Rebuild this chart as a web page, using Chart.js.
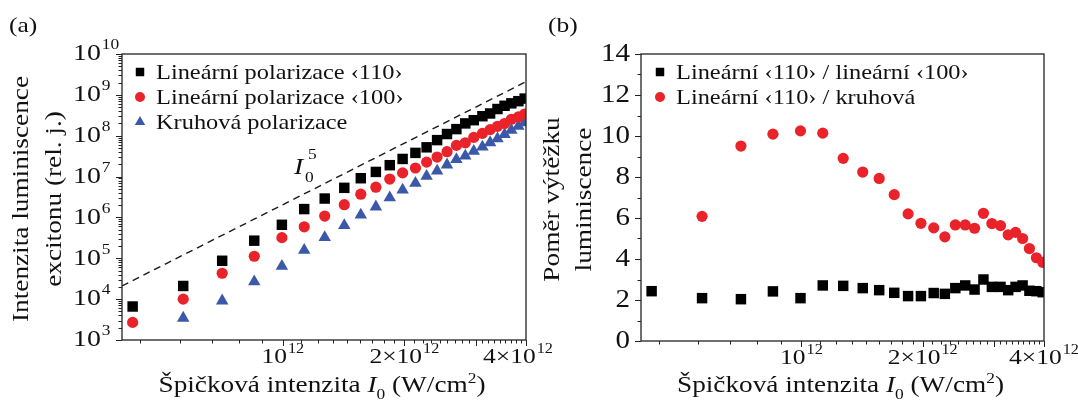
<!DOCTYPE html>
<html>
<head>
<meta charset="utf-8">
<script src="https://cdn.jsdelivr.net/npm/chart.js@4.4.0/dist/chart.umd.min.js"></script>
<style>
  body { margin: 0; background: #fff; width: 1078px; height: 403px; overflow: hidden; position: relative; }
  canvas { position: absolute; top: 0; }
</style>
</head>
<body>
<canvas id="chartA" width="580" height="403" style="left:0"></canvas>
<canvas id="chartB" width="539" height="403" style="left:539px"></canvas>
<script>
// Peak intensity I0 (W/cm2)
const intensity = [4.25e11, 5.67e11, 7.08e11, 8.50e11, 9.95e11, 1.13e12, 1.27e12, 1.42e12, 1.56e12,
    1.70e12, 1.84e12, 1.98e12, 2.13e12, 2.27e12, 2.41e12, 2.55e12, 2.69e12, 2.83e12, 2.97e12,
    3.12e12, 3.26e12, 3.40e12, 3.54e12, 3.68e12, 3.83e12, 3.97e12];

// (a) exciton luminescence intensity (rel. units)
const lin110 = [6.6e3, 2.1e4, 8.7e4, 2.7e5, 6.6e5, 1.6e6, 2.9e6, 5.3e6, 9.1e6, 1.3e7, 1.9e7, 2.7e7,
    3.8e7, 5.2e7, 7.8e7, 1.1e8, 1.45e8, 2.0e8, 2.4e8, 3.0e8, 3.5e8, 4.5e8, 5.4e8, 6.2e8, 7.0e8, 8.1e8];
const lin100 = [2.7e3, 1.0e4, 4.3e4, 1.12e5, 3.2e5, 5.9e5, 1.08e6, 2.05e6, 3.7e6, 5.5e6, 8.7e6, 1.23e7,
    1.62e7, 2.26e7, 3.0e7, 4.06e7, 5.8e7, 6.7e7, 9.1e7, 1.14e8, 1.41e8, 1.70e8, 1.99e8, 2.53e8, 2.88e8, 3.4e8];
const circular = [null, 3.45e3, 9.1e3, 2.68e4, 6.4e4, 1.58e5, 3.25e5, 6.4e5, 1.15e6, 1.82e6, 3.06e6, 4.7e6,
    6.9e6, 1.02e7, 1.38e7, 1.94e7, 2.64e7, 3.2e7, 4.2e7, 5.3e7, 6.8e7, 8.5e7, 1.08e8, 1.37e8, 1.72e8, 2.1e8];

// I0^5 guide line
const guideX = [4e11, 4e12];
const guideY = [2.1e4, 2.1e9];

// (b) luminescence yield ratios
const ratio110to100 = [2.43, 2.09, 2.04, 2.42, 2.09, 2.71, 2.69, 2.58, 2.48, 2.35, 2.19, 2.19, 2.34,
    2.30, 2.58, 2.71, 2.51, 3.00, 2.64, 2.64, 2.48, 2.64, 2.71, 2.45, 2.43, 2.38];
const ratio110toCirc = [null, 6.08, 9.51, 10.09, 10.25, 10.14, 8.91, 8.24, 7.93, 7.14, 6.20, 5.74, 5.52,
    5.08, 5.66, 5.66, 5.50, 6.23, 5.73, 5.63, 5.18, 5.30, 5.00, 4.51, 4.06, 3.84];

// Axis ticks
const xMajor = [1e12, 2e12, 3e12, 4e12];
const xTickLabels = [['10', '12', 1e12], ['2×10', '12', 2e12], ['4×10', '12', 4e12]];
const yMajorA = [1e3, 1e4, 1e5, 1e6, 1e7, 1e8, 1e9, 1e10];
const yTickExpA = ['3', '4', '5', '6', '7', '8', '9', '10'];
const yMajorB = [0, 2, 4, 6, 8, 10, 12, 14];
const yMinorB = [1, 3, 5, 7, 9, 11, 13];

const FONT = '"Liberation Serif", "Times New Roman", serif';
const SX = 1.16;   // widen the serif face a little, the original uses a broad TeX font
const INK = '#111';
const BLACK = '#000000';
const RED = '#ea2229';
const BLUE = '#3b59a8';

// minor ticks of the log axes
const xMinor = [];
for (let k = 4; k <= 8; k++) xMinor.push(k * 1e12 / 9);
[1e12, 2e12, 3e12].forEach(a => { for (let j = 1; j <= 8; j++) xMinor.push(a + j * 1e12 / 9); });
const yMinorA = [];
for (let d = 3; d < 10; d++) for (let m = 2; m <= 9; m++) yMinorA.push(m * Math.pow(10, d));

function pts(xs, ys) {
    const out = [];
    xs.forEach((x, i) => { if (ys[i] != null) out.push({ x: x, y: ys[i] }); });
    return out;
}

function setFont(ctx, size, style) {
    ctx.font = (style ? style + ' ' : '') + size + 'px ' + FONT;
}

function textW(ctx, s) {
    return ctx.measureText(s).width * SX;
}

// stretched text, baseline middle
function txt(ctx, s, x, y, align) {
    const w = textW(ctx, s);
    let x0 = x;
    if (align === 'right') x0 = x - w;
    if (align === 'center') x0 = x - w / 2;
    ctx.save();
    ctx.translate(x0, y);
    ctx.scale(SX, 1);
    ctx.textAlign = 'left';
    ctx.textBaseline = 'middle';
    ctx.fillText(s, 0, 0);
    ctx.restore();
    return w;
}

// text with a raised exponent, e.g. 10^12
function drawPow(ctx, x, y, base, exp, align, size) {
    setFont(ctx, size);
    const wb = textW(ctx, base);
    const small = Math.round(size * 0.64);
    setFont(ctx, small);
    const we = textW(ctx, exp);
    const w = wb + we + 1;
    let x0 = x;
    if (align === 'right') x0 = x - w;
    if (align === 'center') x0 = x - w / 2;
    setFont(ctx, size);
    txt(ctx, base, x0, y, 'left');
    setFont(ctx, small);
    txt(ctx, exp, x0 + wb + 1, y - size * 0.36, 'left');
}

// rich text runs: [text, size, style, dy]
function drawRuns(ctx, runs, cx, y) {
    let total = 0;
    runs.forEach(r => { setFont(ctx, r[1], r[2]); total += textW(ctx, r[0]); });
    let x = cx - total / 2;
    runs.forEach(r => {
        setFont(ctx, r[1], r[2]);
        x += txt(ctx, r[0], x, y + (r[3] || 0), 'left');
    });
}

const xTitleRuns = [
    ['Špičková intenzita ', 23.5], ['I', 23.5, 'italic'], ['0', 15, '', 9], [' (W/cm', 23.5], ['2', 15, '', -7], [')', 23.5]
];

const decorPlugin = {
    id: 'decor',
    afterDatasetsDraw(chart, args, o) {
        const ctx = chart.ctx;
        const a = chart.chartArea;
        const xs = chart.scales.x, ys = chart.scales.y;
        ctx.save();
        ctx.strokeStyle = '#222';
        ctx.fillStyle = INK;
        ctx.lineWidth = 1.3;
        ctx.strokeRect(a.left, a.top, a.right - a.left, a.bottom - a.top);

        ctx.lineWidth = 1;
        ctx.beginPath();
        xMajor.forEach(v => {
            const px = Math.round(xs.getPixelForValue(v)) + 0.5;
            ctx.moveTo(px, a.bottom); ctx.lineTo(px, a.bottom + 6);
        });
        xMinor.forEach(v => {
            const px = Math.round(xs.getPixelForValue(v)) + 0.5;
            ctx.moveTo(px, a.bottom); ctx.lineTo(px, a.bottom + 3.5);
        });
        o.yMajor.forEach(v => {
            const py = Math.round(ys.getPixelForValue(v)) + 0.5;
            ctx.moveTo(a.left - 6, py); ctx.lineTo(a.left, py);
        });
        o.yMinor.forEach(v => {
            const py = Math.round(ys.getPixelForValue(v)) + 0.5;
            ctx.moveTo(a.left - 3.5, py); ctx.lineTo(a.left, py);
        });
        ctx.stroke();

        // tick labels
        xTickLabels.forEach(t => drawPow(ctx, xs.getPixelForValue(t[2]) - o.lastShift * (t[2] === 4e12), a.bottom + 17, t[0], t[1], 'center', 22));
        o.yMajor.forEach((v, i) => {
            const py = ys.getPixelForValue(v);
            if (o.yExp) drawPow(ctx, a.left - 49, py, '10', o.yExp[i], 'left', 24);
            else {
                setFont(ctx, 25);
                txt(ctx, String(v), a.left - 11, py, 'right');
            }
        });

        // axis titles
        drawRuns(ctx, xTitleRuns, (a.left + a.right) / 2 - 2, 386);
        setFont(ctx, 23.5);
        o.yTitle.forEach((line, i) => {
            ctx.save();
            ctx.translate(o.yTitleX[i], (a.top + a.bottom) / 2 + 2);
            ctx.rotate(-Math.PI / 2);
            txt(ctx, line, 0, 0, 'center');
            ctx.restore();
        });

        // panel label
        setFont(ctx, 22);
        txt(ctx, o.panel, o.panelX, 26, 'left');

        // legend
        chart.data.datasets.forEach((ds, i) => {
            if (!ds.label) return;
            const y = o.legendY + i * 25;
            ctx.fillStyle = ds.backgroundColor;
            ctx.strokeStyle = ds.backgroundColor;
            Chart.helpers.drawPoint(ctx, { pointStyle: ds.pointStyle, radius: ds.pointStyle === 'circle' ? 5 : 6, borderWidth: 0, rotation: 0 }, o.legendX, y);
            ctx.fillStyle = INK;
            setFont(ctx, 21);
            txt(ctx, ds.label, o.legendX + 16, y + 1, 'left');
        });

        if (o.note) {
            ctx.fillStyle = INK;
            setFont(ctx, 24, 'italic');
            txt(ctx, 'I', 294, 168, 'left');
            setFont(ctx, 15);
            txt(ctx, '0', 305, 178, 'left');
            txt(ctx, '5', 308, 155, 'left');
        }
        ctx.restore();
    }
};

function scatterSet(label, data, color, style, radius) {
    return {
        label: label, data: data, showLine: false,
        backgroundColor: color, borderColor: color, borderWidth: 0,
        pointStyle: style, pointRadius: radius, pointHoverRadius: radius
    };
}

new Chart(document.getElementById('chartA'), {
    type: 'scatter',
    data: {
        datasets: [
            scatterSet('Lineární polarizace ‹110›', pts(intensity, lin110), BLACK, 'rect', 7.4),
            scatterSet('Lineární polarizace ‹100›', pts(intensity, lin100), RED, 'circle', 5.6),
            scatterSet('Kruhová polarizace', pts(intensity, circular), BLUE, 'triangle', 7.2),
            {
                label: '', data: pts(guideX, guideY), showLine: true, borderColor: '#1a1a1a',
                borderWidth: 1.4, borderDash: [7, 5], pointRadius: 0, fill: false
            }
        ]
    },
    options: {
        responsive: false, animation: false,
        layout: { padding: { left: 122, right: 54, top: 54, bottom: 63 } },
        scales: {
            x: { type: 'logarithmic', min: 4e11, max: 4e12, display: false },
            y: { type: 'logarithmic', min: 1e3, max: 1e10, display: false }
        },
        plugins: {
            legend: { display: false }, tooltip: { enabled: false },
            decor: {
                yMajor: yMajorA, yMinor: yMinorA, yExp: yTickExpA,
                yTitle: ['Intenzita luminiscence', 'excitonu (rel. j.)'], yTitleX: [22, 55],
                panel: '(a)', panelX: 9, legendX: 140, legendY: 72, note: true, lastShift: 8
            }
        }
    },
    plugins: [decorPlugin]
});

new Chart(document.getElementById('chartB'), {
    type: 'scatter',
    data: {
        datasets: [
            scatterSet('Lineární ‹110› / lineární ‹100›', pts(intensity, ratio110to100), BLACK, 'rect', 7.4),
            scatterSet('Lineární ‹110› / kruhová', pts(intensity, ratio110toCirc), RED, 'circle', 5.6)
        ]
    },
    options: {
        responsive: false, animation: false,
        layout: { padding: { left: 102, right: 34, top: 54, bottom: 62 } },
        scales: {
            x: { type: 'logarithmic', min: 4e11, max: 4e12, display: false },
            y: { type: 'linear', min: 0, max: 14, display: false }
        },
        plugins: {
            legend: { display: false }, tooltip: { enabled: false },
            decor: {
                yMajor: yMajorB, yMinor: yMinorB,
                yTitle: ['Poměr výtěžku', 'luminiscence'], yTitleX: [14, 46],
                panel: '(b)', panelX: 9, legendX: 121, legendY: 72, lastShift: 0
            }
        }
    },
    plugins: [decorPlugin]
});
</script>
</body>
</html>
